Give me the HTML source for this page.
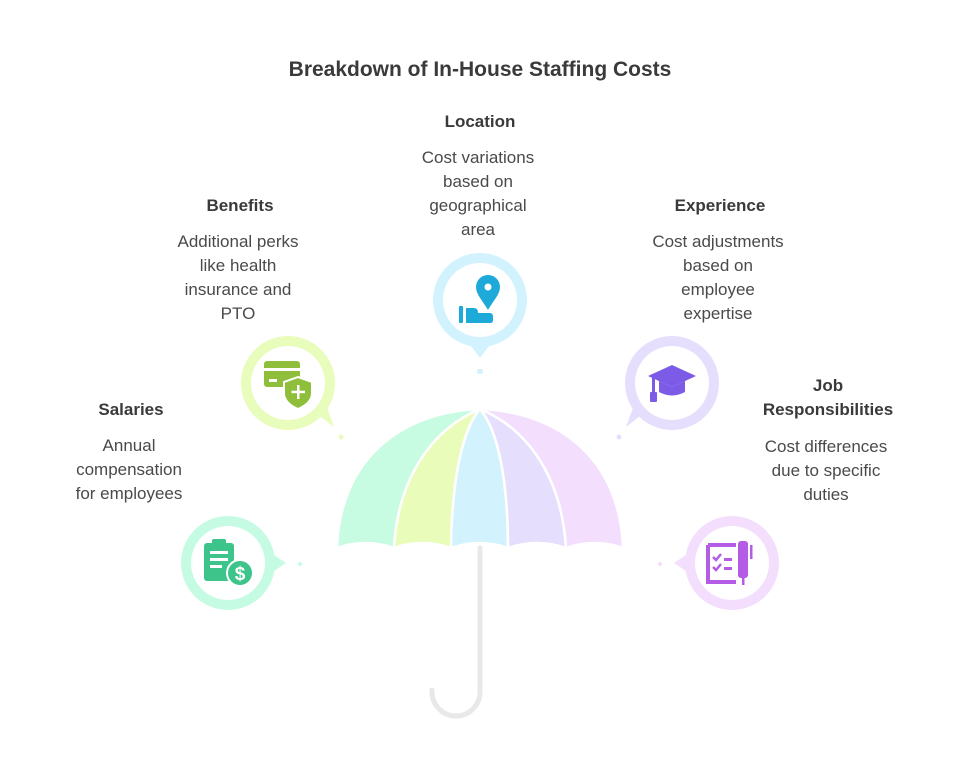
<!DOCTYPE html>
<html><head><meta charset="utf-8"><style>
html,body{margin:0;padding:0;background:#fff;}
svg{display:block;}
text{font-family:"Liberation Sans",sans-serif;fill:#444;}
.h{font-weight:bold;font-size:17px;fill:#3a3a3a;}
.d{font-size:17px;fill:#4a4a4a;}
</style></head><body>
<svg width="960" height="780" viewBox="0 0 960 780" xmlns="http://www.w3.org/2000/svg">
<text x="480" y="76" text-anchor="middle" style="font-weight:bold;font-size:21px;fill:#3a3a3a">Breakdown of In-House Staffing Costs</text>

<!-- umbrella stem -->
<path d="M480,548 L480,692 A24,24 0 0 1 432,692 L432,690" fill="none" stroke="#e8e8e8" stroke-width="5" stroke-linecap="round"/>

<!-- canopy panels -->
<g stroke="#fff" stroke-width="2.5">
<path d="M480,409 C400,412 340,460 337,548 Q365,538 394,548 C398,480 430,430 480,409Z" fill="#c7fbe2"/>
<path d="M480,409 C430,430 398,480 394,548 Q422,538 451,548 C452,480 462,430 480,409Z" fill="#e9fcba"/>
<path d="M480,409 C462,430 452,480 451,548 Q480,538 508,548 C508,480 498,430 480,409Z" fill="#d2f3fd"/>
<path d="M480,409 C498,430 508,480 508,548 Q537,538 566,548 C562,480 530,430 480,409Z" fill="#e6defd"/>
<path d="M480,409 C530,430 562,480 566,548 Q595,538 623,548 C620,460 560,412 480,409Z" fill="#f3dffd"/>
</g>

<!-- small markers -->
<circle cx="300" cy="564" r="2" fill="#c6fbe3"/>
<circle cx="341" cy="437" r="2.5" fill="#e8fcbc"/>
<rect x="477" y="369" width="6" height="5" rx="2" fill="#d2f3fd"/>
<circle cx="619" cy="437" r="2.5" fill="#e5defd"/>
<circle cx="660" cy="564" r="2" fill="#f3defd"/>

<!-- Salaries -->
<g transform="translate(228,563)">
<circle r="47" fill="#c6fbe3"/><path d="M40,-12 L58,0 L40,12Z" fill="#c6fbe3"/><circle r="37" fill="#fff"/>
<rect x="-24" y="-20" width="30" height="38" rx="3" fill="#3cc48a"/>
<rect x="-16" y="-24" width="14" height="7" rx="2" fill="#3cc48a"/>
<rect x="-18" y="-12" width="18" height="3" fill="#fff"/><rect x="-18" y="-5" width="18" height="3" fill="#fff"/><rect x="-18" y="2" width="12" height="3" fill="#fff"/>
<circle cx="12" cy="10" r="13" fill="#3cc48a" stroke="#fff" stroke-width="2"/>
<text x="12" y="17" text-anchor="middle" style="font-size:19px;font-weight:bold;fill:#fff">$</text>
</g>
<!-- Benefits -->
<g transform="translate(288,383)">
<circle r="47" fill="#e8fcbc"/><path d="M28,30 L46,44 L38,22Z" fill="#e8fcbc"/><circle r="37" fill="#fff"/>
<rect x="-24" y="-22" width="36" height="26" rx="3" fill="#8fbe3a"/>
<rect x="-24" y="-15" width="36" height="3" fill="#fff"/>
<rect x="-19" y="-4" width="8" height="3" fill="#fff"/>
<path d="M10,-6 L24,-1 L24,10 Q24,20 10,26 Q-4,20 -4,10 L-4,-1Z" fill="#8fbe3a" stroke="#fff" stroke-width="2"/>
<rect x="9" y="2" width="2.5" height="14" fill="#fff"/><rect x="3.5" y="7.7" width="13.5" height="2.5" fill="#fff"/>
</g>
<!-- Location -->
<g transform="translate(480,300)">
<circle r="47" fill="#d2f3fd"/><path d="M-12,42 L0,58 L12,42Z" fill="#d2f3fd"/><circle r="37" fill="#fff"/>
<path d="M8,10 C2,0 -4,-6 -4,-13 A12,12 0 0 1 20,-13 C20,-6 14,0 8,10Z" fill="#1eaad8"/>
<circle cx="8" cy="-13" r="3.5" fill="#fff"/>
<rect x="-21" y="6" width="4" height="17" rx="1" fill="#1eaad8"/>
<path d="M-14,8 L-6,8 Q-2,8 -2,13 L10,13 Q13,13 13,17 L13,20 Q13,23 10,23 L-14,23Z" fill="#1eaad8"/>
</g>
<!-- Experience -->
<g transform="translate(672,383)">
<circle r="47" fill="#e5defd"/><path d="M-28,30 L-46,44 L-38,22Z" fill="#e5defd"/><circle r="37" fill="#fff"/>
<path d="M0,-18 L24,-7 L0,4 L-24,-7Z" fill="#7c5ce6"/>
<path d="M-13,-2 L0,4 L13,-2 L13,9 Q0,16 -13,9Z" fill="#7c5ce6"/>
<rect x="-20" y="-6" width="3" height="16" fill="#7c5ce6"/>
<rect x="-22" y="9" width="7" height="10" rx="1" fill="#7c5ce6"/>
</g>
<!-- Job Responsibilities -->
<g transform="translate(732,563)">
<circle r="47" fill="#f3defd"/><path d="M-40,-12 L-58,0 L-40,12Z" fill="#f3defd"/><circle r="37" fill="#fff"/>
<path d="M-24,-18 L4,-18 M-24,-18 L-24,19 L4,19" fill="none" stroke="#b45ce6" stroke-width="4"/>
<path d="M-19,-6 L-16,-3 L-11,-9 M-19,4 L-16,7 L-11,1" fill="none" stroke="#b45ce6" stroke-width="2.5"/>
<rect x="-8" y="-5" width="8" height="3" fill="#b45ce6"/><rect x="-8" y="4" width="8" height="3" fill="#b45ce6"/>
<rect x="6" y="-22" width="10" height="37" rx="3" fill="#b45ce6"/>
<rect x="10" y="15" width="2.5" height="7" fill="#b45ce6"/>
<rect x="18" y="-18" width="2.5" height="14" fill="#b45ce6"/>
</g>

<!-- labels -->
<text class="h" x="131" y="415" text-anchor="middle">Salaries</text>
<text class="d" text-anchor="middle"><tspan x="129" y="451">Annual</tspan><tspan x="129" y="475">compensation</tspan><tspan x="129" y="499">for employees</tspan></text>

<text class="h" x="240" y="211" text-anchor="middle">Benefits</text>
<text class="d" text-anchor="middle"><tspan x="238" y="247">Additional perks</tspan><tspan x="238" y="271">like health</tspan><tspan x="238" y="295">insurance and</tspan><tspan x="238" y="319">PTO</tspan></text>

<text class="h" x="480" y="127" text-anchor="middle">Location</text>
<text class="d" text-anchor="middle"><tspan x="478" y="163">Cost variations</tspan><tspan x="478" y="187">based on</tspan><tspan x="478" y="211">geographical</tspan><tspan x="478" y="235">area</tspan></text>

<text class="h" x="720" y="211" text-anchor="middle">Experience</text>
<text class="d" text-anchor="middle"><tspan x="718" y="247">Cost adjustments</tspan><tspan x="718" y="271">based on</tspan><tspan x="718" y="295">employee</tspan><tspan x="718" y="319">expertise</tspan></text>

<text class="h" text-anchor="middle"><tspan x="828" y="391">Job</tspan><tspan x="828" y="415">Responsibilities</tspan></text>
<text class="d" text-anchor="middle"><tspan x="826" y="452">Cost differences</tspan><tspan x="826" y="476">due to specific</tspan><tspan x="826" y="500">duties</tspan></text>
</svg>
</body></html>
